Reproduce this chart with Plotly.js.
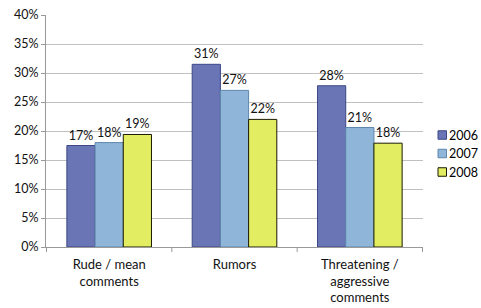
<!DOCTYPE html>
<html><head><meta charset="utf-8">
<script src="https://cdn.plot.ly/plotly-3.0.1.min.js"></script>
<style>html,body{margin:0;padding:0;background:#fff}#c{width:481px;height:308px}</style>
</head><body><div id="c"></div>
<script>
const categories = ["Rude / mean<br>comments", "Rumors", "Threatening /<br>aggressive<br>comments"];
const years = ["2006", "2007", "2008"];
const v2006 = [17.5, 31.5, 27.8];
const v2007 = [18.0, 27.0, 20.6];
const v2008 = [19.4, 22.0, 17.9];
const t2006 = ["17%", "31%", "28%"];
const t2007 = ["18%", "27%", "21%"];
const t2008 = ["19%", "22%", "18%"];
const fills = ["#6a75b6", "#8fb5d9", "#e3ed62"];
const edges = ["#3b4785", "#5d86ad", "#1a1a00"];
const series = [v2006, v2007, v2008];
const texts = [t2006, t2007, t2008];
const font = "Lato, 'Open Sans', sans-serif";

// plot area in pixels
const L = 46, R = 58, T = 15, B = 61, W = 481, H = 308;
const pw = W - L - R, ph = H - T - B;
const px = x => (x - L) / pw;
const py = y => (H - B - y) / ph;

const data = series.map((s, i) => ({
  type: "bar", name: years[i], x: categories, y: s,
  text: texts[i], textposition: "outside", cliponaxis: false,
  textfont: {family: font, size: 12.5, color: "#111"},
  marker: {color: fills[i], line: {color: edges[i], width: 1}},
  showlegend: false
}));

const shapes = [0, 1, 2, 3].map(k => ({type: "line", xref: "x", yref: "paper",
  x0: k - 0.5, x1: k - 0.5, y0: 0, y1: -0.022, line: {color: "#999", width: 1}}));
const annotations = [];
const legY = [135, 153.5, 172];
years.forEach((yr, i) => {
  shapes.push({type: "rect", xref: "paper", yref: "paper",
    x0: px(438), x1: px(446.5), y0: py(legY[i] + 4.25), y1: py(legY[i] - 4.25),
    fillcolor: fills[i], line: {color: edges[i], width: 1}});
  annotations.push({xref: "paper", yref: "paper", x: px(447.5), y: py(legY[i]),
    xanchor: "left", yanchor: "middle", showarrow: false, text: yr,
    font: {family: font, size: 12.5, color: "#000"}});
});

const layout = {
  width: W, height: H,
  margin: {l: L, r: R, t: T, b: B},
  paper_bgcolor: "#fff", plot_bgcolor: "#fff",
  font: {family: font, size: 12, color: "#000"},
  barmode: "group", bargap: 0.325, bargroupgap: 0,
  showlegend: false,
  xaxis: {showline: true, linecolor: "#999", linewidth: 1, ticks: "",
    ticklabelstandoff: 5,
    tickfont: {size: 13, color: "#111"}, showgrid: false, fixedrange: true},
  yaxis: {range: [0, 40], dtick: 5, ticksuffix: "%", showline: true, linecolor: "#999",
    ticks: "outside", ticklen: 4, tickcolor: "#999", gridcolor: "#c0c0c0", gridwidth: 1,
    zeroline: false, tickfont: {size: 12.5, color: "#111"}},
  shapes: shapes,
  annotations: annotations
};
Plotly.newPlot("c", data, layout, {displayModeBar: false, staticPlot: true});
</script></body></html>
